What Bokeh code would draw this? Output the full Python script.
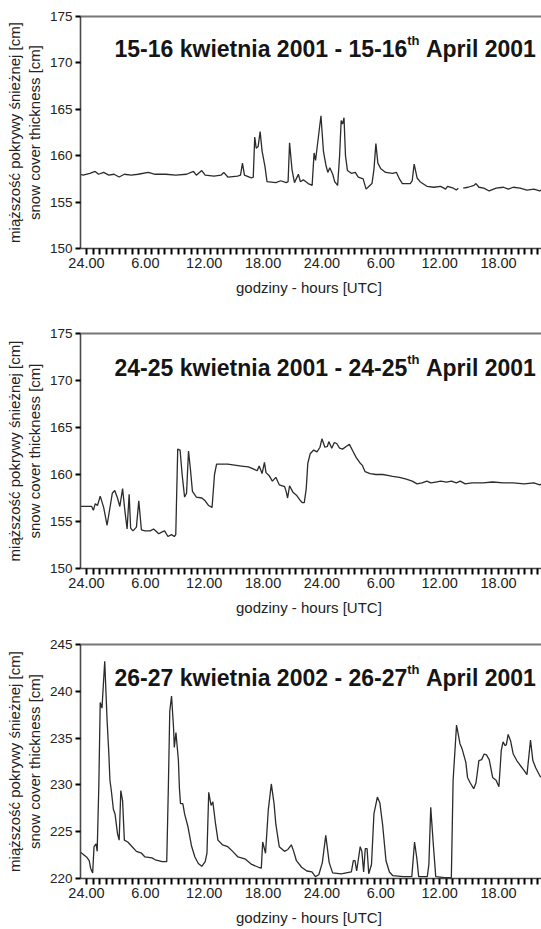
from bokeh.plotting import figure
from bokeh.models import Range1d, LinearAxis, FixedTicker, Label
from bokeh.layouts import column
from bokeh.embed import file_html
from bokeh.resources import INLINE

nan = float("nan")

# ---------------- data ----------------
tick_hours = [0, 6, 12, 18, 24, 30, 36, 42]
tick_labels = ["24.00", "6.00", "12.00", "18.00", "24.00", "6.00", "12.00", "18.00"]

y_ticks_a = [150, 155, 160, 165, 170, 175]
y_ticks_c = [220, 225, 230, 235, 240, 245]

# 15-16 April 2001
hours_a = [
    -0.61, -0.35, 0.35, 0.88, 1.23, 1.75, 2.28, 2.8, 3.33, 3.86,
    4.56, 5.26, 6.3, 7.0, 8.07, 9.1, 10.2, 10.9, 11.2, 11.75,
    12.1, 13.0, 13.7, 14.0, 14.4, 15.4, 15.7, 15.9, 16.1, 16.8,
    17.0, 17.15, 17.3, 17.5, 17.7, 17.9, 18.2, 18.4, 19.3, 19.8,
    20.35, 20.55, 20.7, 20.95, 21.2, 21.6, 21.8, 22.1, 22.6, 23.0,
    23.2, 23.35, 23.5, 23.9, 24.15, 24.4, 24.6, 24.8, 25.1, 25.3,
    25.6, 25.8, 25.96, 26.1, 26.25, 26.4, 26.6, 27.0, 27.4, 27.7,
    28.2, 28.5, 28.8, 29.1, 29.3, 29.5, 29.7, 30.0, 30.5, 31.2,
    31.6, 31.9, 32.2, 33.0, 33.2, 33.4, 33.7, 34.0, 34.7, 35.4,
    36.1, 36.6, 36.8, 37.4, 37.7, 37.9, 38.15, 38.4, 38.9, 39.5,
    39.7, 40.0, 40.5, 41.05, 41.75, 42.5, 43.0, 43.5, 44.2, 44.9,
    45.6, 46.2, 46.38]
snow_a = [
    158.0, 157.9, 158.1, 158.3, 158.0, 158.2, 157.9, 158.0, 157.7, 158.0,
    157.9, 158.0, 158.2, 158.0, 158.0, 157.9, 158.0, 158.3, 157.9, 158.4,
    157.9, 157.8, 157.9, 158.2, 157.7, 157.8, 157.9, 159.2, 157.9, 157.6,
    157.7, 162.0, 160.8, 161.0, 162.6, 160.5, 158.8, 157.2, 157.1, 157.3,
    157.1, 157.2, 161.4, 158.5, 157.1, 158.0, 157.2, 157.4, 157.0, 156.8,
    160.3, 159.5, 160.8, 164.3, 160.5, 159.0, 158.2, 158.7, 158.0, 157.2,
    156.8, 160.0, 163.8, 163.4, 164.1, 160.0, 158.4, 158.1, 158.2, 157.7,
    157.5, 156.4, 156.7, 157.0, 158.5, 161.3, 159.2, 158.6, 158.2, 158.1,
    158.2, 157.5, 157.0, 157.0, 157.3, 159.1, 157.6, 157.2, 156.7, 156.6,
    156.7, 156.4, 156.7, 156.5, 156.3, 156.5, nan, 156.5, 156.6, 156.8,
    157.0, 156.6, 156.5, 156.2, 156.5, 156.6, 156.4, 156.6, 156.5, 156.3,
    156.4, 156.2, 156.3]

# 24-25 April 2001
hours_b = [
    -0.61, 0.18, 0.53, 0.7, 0.9, 1.12, 1.4, 1.75, 2.1, 2.63,
    2.88, 3.16, 3.4, 3.68, 3.93, 4.14, 4.35, 4.5, 4.74, 5.09,
    5.33, 5.6, 5.96, 6.5, 6.84, 7.37, 7.72, 7.96, 8.3, 8.67,
    8.95, 9.1, 9.3, 9.54, 9.75, 10.0, 10.2, 10.4, 10.6, 10.8,
    11.2, 11.75, 12.1, 12.45, 12.8, 13.05, 13.26, 14.4, 15.1, 15.8,
    16.5, 17.0, 17.4, 17.6, 17.9, 18.14, 18.3, 18.6, 18.95, 19.3,
    19.65, 20.2, 20.35, 20.5, 20.7, 21.05, 21.4, 21.75, 22.0, 22.2,
    22.4, 22.56, 22.8, 23.16, 23.5, 23.8, 24.0, 24.3, 24.56, 24.7,
    25.0, 25.26, 25.5, 25.8, 26.1, 26.5, 26.8, 27.2, 27.5, 27.9,
    28.1, 28.4, 28.9, 29.5, 30.2, 30.7, 31.2, 31.9, 32.6, 33.2,
    33.7, 34.2, 34.7, 35.1, 35.6, 36.1, 36.7, 37.2, 37.7, 38.1,
    38.6, 39.3, 40.4, 41.4, 42.5, 43.5, 44.6, 45.6, 46.2, 46.38]
snow_b = [
    156.6, 156.6, 156.6, 156.2, 156.9, 156.7, 157.7, 156.5, 154.6, 158.0,
    158.3, 157.5, 156.6, 158.5, 156.0, 154.2, 157.9, 154.3, 154.0, 154.4,
    157.2, 154.1, 154.0, 154.0, 154.2, 153.7, 153.9, 154.0, 153.4, 153.6,
    153.4, 153.6, 162.7, 162.6, 160.0, 157.6, 158.0, 162.5, 160.5, 158.2,
    157.6, 157.5, 157.2, 156.7, 156.5, 160.0, 161.1, 161.1, 161.0, 160.9,
    160.8, 160.6, 160.4, 160.9, 160.1, 161.3, 160.2, 159.9, 159.3, 159.7,
    158.9, 158.7, 158.2, 157.5, 158.8, 158.1, 157.8, 157.3, 157.0, 157.0,
    158.5, 161.2, 162.2, 162.6, 162.4, 162.9, 163.8, 162.9, 163.0, 163.5,
    162.8, 163.4, 163.3, 162.8, 162.7, 163.0, 163.2, 162.4, 161.8, 161.2,
    161.0, 160.3, 160.1, 160.0, 160.0, 159.9, 159.8, 159.7, 159.5, 159.3,
    159.0, 159.1, 159.3, 159.1, 159.2, 159.3, 159.2, 159.3, 159.1, 159.3,
    159.0, 159.1, 159.1, 159.2, 159.1, 159.1, 159.0, 159.1, 158.9, 159.0]

# 26-27 April
hours_c = [
    -0.61, -0.35, 0.0, 0.28, 0.42, 0.63, 0.77, 0.98, 1.09, 1.26,
    1.4, 1.58, 1.86, 2.1, 2.28, 2.39, 2.53, 2.74, 2.91, 3.16,
    3.33, 3.5, 3.68, 3.86, 4.21, 4.56, 5.09, 5.61, 5.96, 6.67,
    7.02, 7.72, 8.18, 8.35, 8.49, 8.67, 8.88, 8.95, 9.12, 9.37,
    9.47, 9.58, 9.82, 10.0, 10.35, 10.7, 11.05, 11.4, 11.75, 12.1,
    12.28, 12.46, 12.7, 12.88, 13.16, 13.4, 13.86, 14.4, 14.9, 15.44,
    16.14, 16.84, 17.54, 17.82, 17.96, 18.25, 18.53, 18.84, 19.12, 19.3,
    19.65, 20.18, 20.53, 20.88, 21.12, 21.4, 21.93, 22.46, 22.98, 23.33,
    23.68, 24.04, 24.39, 24.74, 25.09, 25.96, 27.0, 27.2, 27.37, 27.54,
    27.9, 28.07, 28.25, 28.42, 28.6, 28.77, 29.05, 29.3, 29.65, 29.9,
    30.18, 30.53, 30.88, 31.23, 32.28, 33.16, 33.44, 33.68, 33.86, 34.74,
    34.9, 35.09, 35.37, 35.6, 36.5, 37.19, 37.37, 37.72, 38.07, 38.3,
    38.67, 38.84, 39.12, 39.47, 39.7, 40.0, 40.28, 40.53, 40.77, 41.05,
    41.4, 41.75, 42.04, 42.28, 42.46, 42.67, 42.8, 42.98, 43.23, 43.5,
    43.86, 44.2, 44.56, 44.9, 45.26, 45.5, 45.8, 46.25, 46.38]
snow_c = [
    222.8, 222.6, 222.3, 221.9, 221.1, 220.6, 223.4, 223.7, 222.9, 230.0,
    238.8, 238.2, 243.2, 236.9, 233.3, 230.5, 229.4, 227.4, 226.9, 224.8,
    224.1, 229.4, 228.3, 224.1, 223.9, 223.5, 222.9, 222.7, 222.3, 222.2,
    222.0, 221.8, 221.8, 230.0, 237.9, 239.5, 236.0, 234.0, 235.6, 232.6,
    229.7, 228.0, 228.0, 226.9, 225.5, 223.5, 222.3, 221.6, 221.3, 221.8,
    222.7, 229.2, 227.8, 228.2, 225.8, 224.1, 223.6, 223.4, 222.9, 222.3,
    222.1, 221.5, 221.2, 221.1, 223.9, 222.7, 227.3, 230.1, 228.0, 225.8,
    223.4, 222.9, 223.1, 223.6, 222.9, 221.9, 221.2, 220.8, 220.7, 220.2,
    220.4, 221.7, 224.6, 221.7, 220.6, 220.5, 220.7, 221.9, 221.9, 220.8,
    223.4, 222.9, 220.7, 223.2, 223.2, 220.5, 221.5, 226.9, 228.7, 228.1,
    225.8, 221.9, 220.7, 220.3, 220.2, 220.2, 223.9, 222.1, 220.2, 220.2,
    221.5, 227.6, 223.4, 220.2, 220.1, 220.1, 230.5, 236.4, 234.4, 233.8,
    232.4, 230.8, 230.2, 229.6, 230.2, 232.6, 232.7, 233.3, 233.2, 232.7,
    230.8, 230.5, 229.8, 233.7, 234.6, 234.2, 234.3, 235.4, 234.7, 233.3,
    232.6, 232.1, 231.6, 231.1, 234.8, 232.6, 231.8, 230.9, 230.8]

title_a = ("15-16 kwietnia 2001 - 15-16", "th", "April 2001")
title_b = ("24-25 kwietnia 2001 - 24-25", "th", "April 2001")
title_c = ("26-27 kwietnia 2002 - 26-27", "th", "April 2001")

y_label = "miąższość pokrywy śnieżnej [cm]\nsnow cover thickness [cm]"
x_label = "godziny  - hours [UTC]"

# ---------------- styling / layout ----------------
FONT = "Liberation Sans"
BOLD_W = {' ': 278, '-': 333, 'A': 722, 'a': 556, 'e': 556, 'h': 611, 'i': 278,
          'k': 556, 'l': 278, 'n': 611, 'p': 611, 'r': 389, 't': 333, 'w': 778}
for d in "0123456789":
    BOLD_W[d] = 556


def text_width(s, size):
    return sum(BOLD_W.get(c, 556) for c in s) / 1000.0 * size


LEFT = 80
FRAME_W = 461
X_START, X_END = -0.61, 46.38

# tick marks every 40 minutes; labels only every 6 hours
tick_positions = [k * 2 / 3 for k in range(0, 70) if k * 2 / 3 < X_END]
label_map = {h: lab for h, lab in zip(tick_hours, tick_labels)}
tick_overrides = {}
for tp in tick_positions:
    key = round(tp, 6)
    if abs(key - round(key)) < 1e-6 and int(round(key)) in label_map:
        tick_overrides[tp] = label_map[int(round(key))]
    else:
        tick_overrides[tp] = ""

AXIS_COLOR = "#4a4a4a"
TEXT_COLOR = "#222222"


def make_panel(hours, values, y_lo, y_hi, y_ticks, title_parts, top, frame_h, bottom, title_base):
    p = figure(frame_width=FRAME_W, frame_height=frame_h,
               x_range=Range1d(X_START, X_END), y_range=Range1d(y_lo, y_hi),
               output_backend="svg", toolbar_location=None,
               min_border_left=LEFT, min_border_right=0,
               min_border_top=top, min_border_bottom=bottom)
    p.outline_line_color = None
    p.xgrid.grid_line_color = None
    p.ygrid.grid_line_color = None
    p.background_fill_color = "white"
    p.border_fill_color = "white"

    p.line(hours, values, line_color="#2b2b2b", line_width=1.3)

    xa = p.xaxis[0]
    xa.ticker = FixedTicker(ticks=tick_positions, minor_ticks=[])
    xa.major_label_overrides = tick_overrides
    xa.major_tick_out = 6
    xa.major_tick_in = 0
    xa.major_tick_line_color = "black"
    xa.major_tick_line_width = 2
    xa.axis_line_color = AXIS_COLOR
    xa.axis_line_width = 1.6
    xa.major_label_text_font = FONT
    xa.major_label_text_font_size = "14.5px"
    xa.major_label_text_color = TEXT_COLOR
    xa.major_label_standoff = 3
    xa.axis_label = x_label
    xa.axis_label_text_font = FONT
    xa.axis_label_text_font_size = "15px"
    xa.axis_label_text_font_style = "normal"
    xa.axis_label_text_color = TEXT_COLOR
    xa.axis_label_standoff = 8

    ya = p.yaxis[0]
    ya.ticker = FixedTicker(ticks=y_ticks, minor_ticks=[])
    ya.major_tick_out = 5
    ya.major_tick_in = 0
    ya.major_tick_line_color = "black"
    ya.major_tick_line_width = 2
    ya.axis_line_color = AXIS_COLOR
    ya.axis_line_width = 1.6
    ya.major_label_text_font = FONT
    ya.major_label_text_font_size = "13.5px"
    ya.major_label_text_color = TEXT_COLOR
    ya.major_label_standoff = 3
    ya.axis_label = y_label
    ya.axis_label_text_font = FONT
    ya.axis_label_text_font_size = "15px"
    ya.axis_label_text_font_style = "normal"
    ya.axis_label_text_color = TEXT_COLOR
    ya.axis_label_standoff = 4

    top_axis = LinearAxis(ticker=FixedTicker(ticks=[]), axis_line_color="#777777",
                          axis_line_width=2, major_tick_line_color=None,
                          minor_tick_line_color=None)
    p.add_layout(top_axis, "above")

    # title with superscript, positioned in pixels converted to data units
    def dx(px):
        return X_START + (px - LEFT) * (X_END - X_START) / FRAME_W

    def dy(py):
        return y_hi - py * (y_hi - y_lo) / frame_h

    main, sup, rest = title_parts
    big, small = 23, 13
    x0 = 114
    x1 = x0 + text_width(main, big)
    x2 = x1 + text_width(sup, small) + text_width(" ", big)
    for txt, xpx, ypx, size in [(main, x0, title_base, big),
                                (sup, x1, title_base - 8, small),
                                (rest, x2, title_base, big)]:
        p.add_layout(Label(x=dx(xpx), y=dy(ypx), text=txt, text_font=FONT,
                           text_font_size=f"{size}px", text_font_style="bold",
                           text_color="#151515", text_align="left",
                           text_baseline="alphabetic"))
    return p


p1 = make_panel(hours_a, snow_a, 150, 175, y_ticks_a, title_a, 16, 232, 62, 32)
p2 = make_panel(hours_b, snow_b, 150, 175, y_ticks_a, title_b, 23, 235, 60, 34)
p3 = make_panel(hours_c, snow_c, 220, 245, y_ticks_c, title_c, 16, 234, 51, 33)

layout = column(p1, p2, p3, spacing=0)
open("out.html", "w").write(file_html(layout, INLINE))
